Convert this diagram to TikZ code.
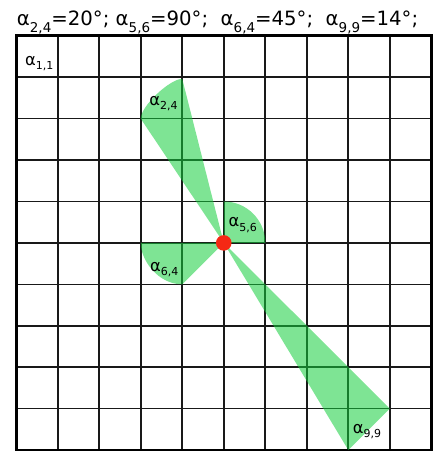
\documentclass[tikz,border=0pt]{standalone}
\usepackage{fontspec}
\setmainfont{DejaVu Sans}
\definecolor{wedgegreen}{RGB}{20,205,60}
\definecolor{dotred}{RGB}{245,40,20}
\newcommand\labsub[1]{\raisebox{-4.3pt}{\fontsize{11}{12}\selectfont #1}}
\newcommand\ttlsub[1]{\raisebox{-7.3pt}{\fontsize{13.5}{15}\selectfont #1}}
\begin{document}
\begin{tikzpicture}[x=41.51pt,y=-41.42pt,
  wedge/.style={fill=wedgegreen, fill opacity=0.55, draw=none},
  gridline/.style={line width=1.6pt, black!90},
  border/.style={line width=2.6pt, black},
  lbl/.style={anchor=base west, inner sep=0pt, font=\fontsize{16.3}{18}\selectfont},
  ttl/.style={anchor=base west, inner sep=0pt, font=\fontsize{19.7}{23}\selectfont}]
\useasboundingbox (-0.3903,-0.8643) rectangle (10.1373,10.0483);
% grid
\foreach \i in {1,...,9} {
  \draw[gridline] (\i,0) -- (\i,10);
  \draw[gridline] (0,\i) -- (10,\i);
}
\draw[border] (0,0) rectangle (10,10);
\coordinate (C) at (5,5);
% wedges
\fill[wedge] (C) -- (6,5) .. controls (6,4.4477) and (5.5523,4) .. (5,4) -- cycle;
\fill[wedge] (C) -- (3,2) .. controls (3,1.7) and (3.7,1.04) .. (4,1.04) -- cycle;
\fill[wedge] (C) -- (3,5) .. controls (3,5.42) and (3.42,6) .. (4,6) -- cycle;
\fill[wedge] (C) -- (9,9) -- (8,10) -- cycle;
% dot
\node[circle, fill=dotred, minimum size=15.6pt, inner sep=0pt] (dot) at (C) {};
% labels
\node[lbl] (l11) at (0.212,0.705) {α\labsub{1,1}};
\node[lbl] (l24) at (3.206,1.671) {α\labsub{2,4}};
\node[lbl] (l56) at (5.110,4.609) {α\labsub{5,6}};
\node[lbl] (l64) at (3.223,5.695) {α\labsub{6,4}};
\node[lbl] (l99) at (8.106,9.597) {α\labsub{9,9}};
% title
\node[ttl] (t1) at (0.012,-0.2607) {α\ttlsub{2,4}=20°;};
\node[ttl] (t2) at (2.392,-0.2607) {α\ttlsub{5,6}=90°;};
\node[ttl] (t3) at (4.922,-0.2607) {α\ttlsub{6,4}=45°;};
\node[ttl] (t4) at (7.451,-0.2607) {α\ttlsub{9,9}=14°;};
\end{tikzpicture}
\end{document}
